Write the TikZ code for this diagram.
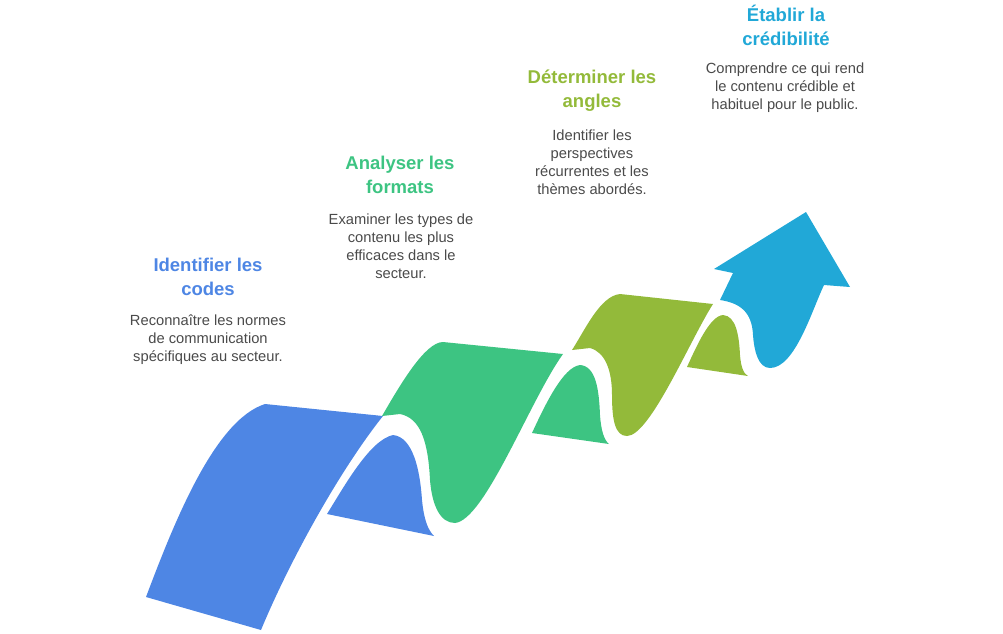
\documentclass[tikz,border=0pt]{standalone}
\usepackage{fontspec}
\setmainfont{Liberation Sans}
\definecolor{cblue}{HTML}{4E86E4}
\definecolor{cgreen}{HTML}{3DC482}
\definecolor{colive}{HTML}{93BA3A}
\definecolor{ccyan}{HTML}{21A8D7}
\definecolor{ctext}{HTML}{4A4A4A}
\begin{document}
\begin{tikzpicture}[x=1pt,y=-1pt,
  title/.style={font=\fontsize{18.5}{24}\selectfont\bfseries,align=center},
  body/.style={font=\fontsize{14.7}{18}\selectfont,align=center,text=ctext},
  rib/.style={draw=none}]
\useasboundingbox (0,0) rectangle (1003,633);
% blue
\fill[cblue] (146,597) .. controls (175,520) and (215,420) .. (265,404)
  -- (383,416) .. controls (340,470) and (290,560) .. (261,630) -- cycle;
\fill[cblue] (327,514) .. controls (345,485) and (370,440) .. (393,435)
  .. controls (413,437) and (420,470) .. (422,500) .. controls (424,520) and (428,530) .. (434,536) -- cycle;
% green
\fill[cgreen] (382,416) .. controls (400,385) and (425,342) .. (443,342)
  -- (563,354) .. controls (530,400) and (485,520) .. (455,523)
  .. controls (440,523) and (432,505) .. (430,480) .. controls (428,440) and (420,418) .. (400,414) -- cycle;
\fill[cgreen] (532,433) .. controls (545,405) and (563,367) .. (580,365)
  .. controls (596,366) and (599,390) .. (600,415) .. controls (601,430) and (604,440) .. (609,444) -- cycle;
% olive
\fill[colive] (572,350) .. controls (585,330) and (600,296) .. (620,294)
  -- (713,304) .. controls (690,340) and (650,436) .. (627,436)
  .. controls (615,436) and (612,420) .. (612,395) .. controls (612,370) and (605,352) .. (590,348) -- cycle;
\fill[colive] (687,367) .. controls (697,345) and (710,316) .. (723,315)
  .. controls (736,316) and (739,335) .. (740,355) .. controls (741,368) and (744,374) .. (748,376) -- cycle;
% arrow
\fill[ccyan] (720,300) -- (733,273) -- (714,269) -- (806,212) -- (850,287) -- (824,285)
  .. controls (812,310) and (795,368) .. (770,368)
  .. controls (758,368) and (754,350) .. (753,335) .. controls (752,312) and (740,303) .. (720,300) -- cycle;
% texts
\node[title,text=cblue] (t1) at (208,277) {Identifier les\\codes};
\node[body] (b1) at (208,340) {Reconnaître les normes\\de communication\\spécifiques au secteur.};
\node[title,text=cgreen] (t2) at (400,175) {Analyser les\\formats};
\node[body] (b2) at (401,246) {Examiner les types de\\contenu les plus\\efficaces dans le\\secteur.};
\node[title,text=colive] (t3) at (592,91) {Déterminer les\\angles};
\node[body] (b3) at (592,162) {Identifier les\\perspectives\\récurrentes et les\\thèmes abordés.};
\node[title,text=ccyan] (t4) at (786,25) {Établir la\\crédibilité};
\node[body] (b4) at (785,88) {Comprendre ce qui rend\\le contenu crédible et\\habituel pour le public.};
\end{tikzpicture}
\end{document}
